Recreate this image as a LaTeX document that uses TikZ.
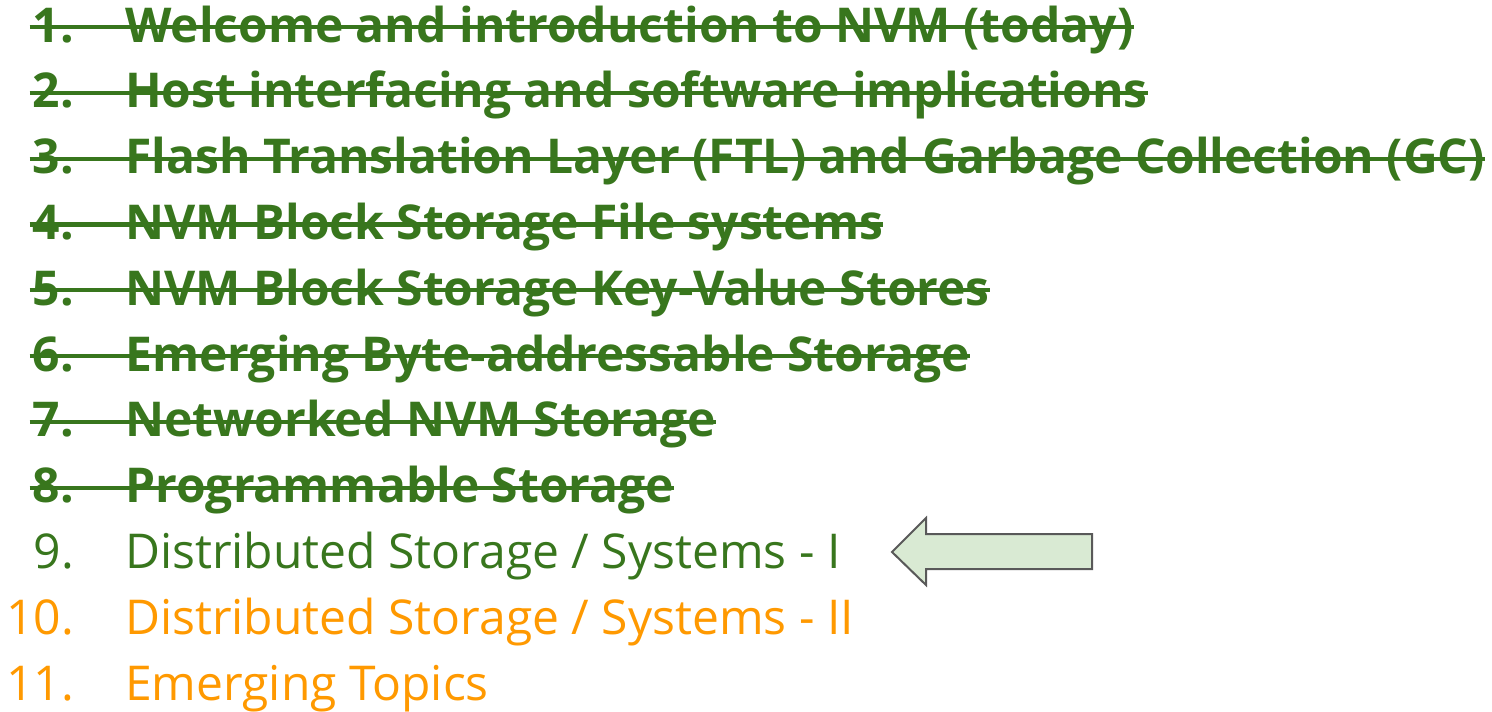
\documentclass[tikz,border=0pt]{standalone}
\usepackage{fontspec}
\setmainfont{Open Sans}
\definecolor{done}{HTML}{38761D}
\definecolor{todo}{HTML}{FF9900}
\definecolor{arrowfill}{HTML}{D9EAD3}
\definecolor{arrowline}{HTML}{595959}
\tikzset{
  num/.style={anchor=base east,inner sep=0pt,font=\fontsize{48}{58}\selectfont},
  item/.style={anchor=base west,inner sep=0pt,font=\fontsize{48}{58}\selectfont},
  strike/.style={line width=4.2pt,done},
}
\begin{document}
\begin{tikzpicture}[x=1pt,y=-1pt]
\useasboundingbox (0,0) rectangle (1492,712);
\foreach \i/\t in {1/Welcome and introduction to NVM (today),
  2/Host interfacing and software implications,
  3/Flash Translation Layer (FTL) and Garbage Collection (GC),
  4/NVM Block Storage File systems,
  5/NVM Block Storage Key-Value Stores,
  6/Emerging Byte-addressable Storage,
  7/Networked NVM Storage,
  8/Programmable Storage}{
  \pgfmathsetmacro{\yy}{42+65.8*(\i-1)}
  \node[num,done,font=\fontsize{48}{58}\selectfont\bfseries] (n\i) at (74,\yy) {\i.};
  \node[item,done,font=\fontsize{48}{58}\selectfont\bfseries] (t\i) at (125,\yy) {\t};
  \draw[strike] ([shift={(-3,-15)}]n\i.base west) -- ([shift={(0,-15)}]t\i.base east);
}
\node[num,done] (n9) at (74,568.4) {9.};
\node[item,done] (t9) at (125,568.4) {Distributed Storage / Systems - I};
\node[num,todo] (n10) at (74,634.2) {10.};
\node[item,todo] (t10) at (125,634.2) {Distributed Storage / Systems - II};
\node[num,todo] (n11) at (74,700) {11.};
\node[item,todo] (t11) at (125,700) {Emerging Topics};
\draw[arrowline,fill=arrowfill,line width=2pt,line join=miter]
  (892,552) -- (926,518) -- (926,534) -- (1092,534) -- (1092,569) -- (926,569) -- (926,585) -- cycle;
\end{tikzpicture}
\end{document}
